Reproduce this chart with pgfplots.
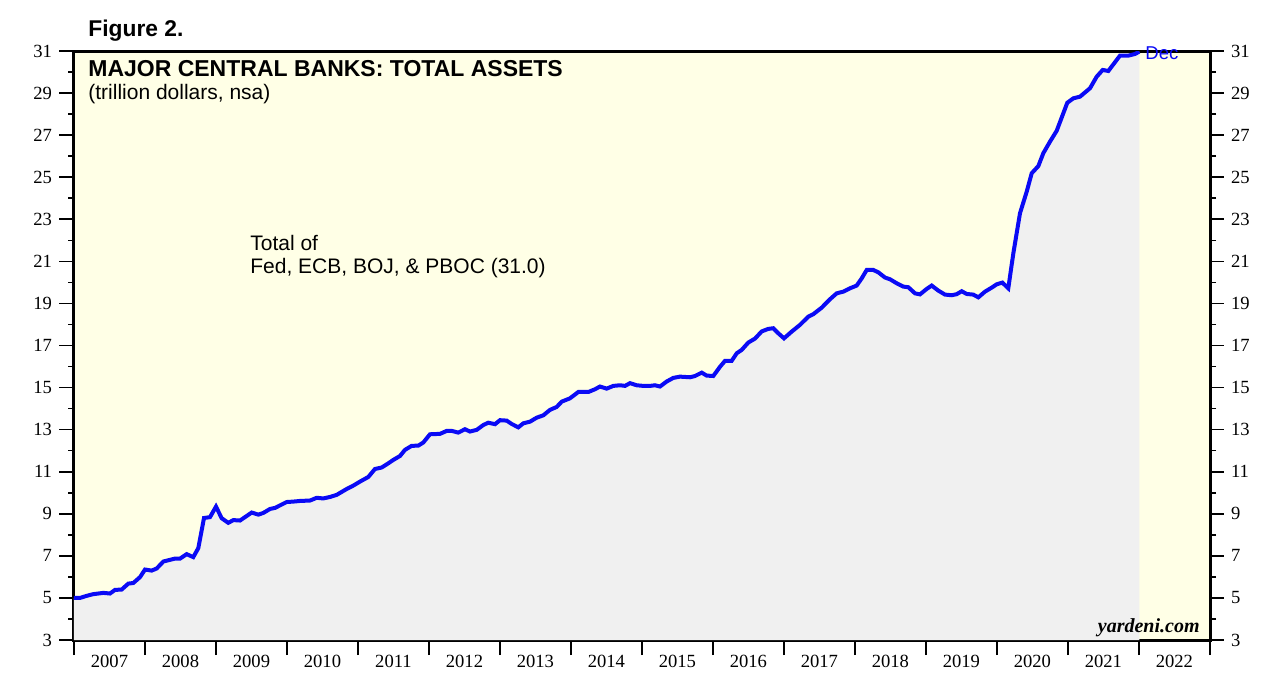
\documentclass[border=0pt]{standalone}
\usepackage{pgfplots}
\pgfplotsset{compat=1.18}
\usepackage{pgfplotstable}
\usepackage{fontspec}
\setmainfont{Liberation Serif}
\setsansfont{Liberation Sans}

\definecolor{bgyellow}{RGB}{255,255,230}
\definecolor{areagray}{RGB}{240,240,240}
\definecolor{lineblue}{RGB}{10,10,245}

% total assets of Fed, ECB, BOJ and PBOC, trillion dollars
\pgfplotstableread{
year     assets
2007.000 5.00
2007.085 5.00
2007.179 5.10
2007.272 5.18
2007.413 5.24
2007.507 5.21
2007.577 5.38
2007.672 5.40
2007.765 5.68
2007.835 5.71
2007.930 5.99
2008.000 6.35
2008.094 6.30
2008.165 6.40
2008.258 6.73
2008.352 6.81
2008.423 6.87
2008.493 6.87
2008.587 7.08
2008.680 6.94
2008.751 7.37
2008.831 8.80
2008.915 8.84
2009.000 9.34
2009.080 8.79
2009.173 8.57
2009.244 8.70
2009.338 8.68
2009.408 8.84
2009.503 9.06
2009.596 8.96
2009.666 9.04
2009.761 9.23
2009.831 9.28
2009.925 9.44
2009.996 9.56
2010.089 9.58
2010.183 9.61
2010.324 9.63
2010.418 9.76
2010.511 9.73
2010.606 9.80
2010.700 9.90
2010.841 10.18
2010.934 10.34
2011.028 10.53
2011.145 10.75
2011.239 11.13
2011.334 11.20
2011.427 11.40
2011.497 11.56
2011.592 11.75
2011.662 12.04
2011.756 12.23
2011.849 12.24
2011.920 12.39
2012.014 12.78
2012.155 12.80
2012.249 12.94
2012.320 12.94
2012.413 12.86
2012.507 13.02
2012.577 12.91
2012.672 12.99
2012.765 13.22
2012.835 13.33
2012.930 13.26
2013.000 13.45
2013.094 13.43
2013.165 13.27
2013.258 13.11
2013.328 13.30
2013.423 13.38
2013.517 13.57
2013.610 13.68
2013.704 13.94
2013.799 14.08
2013.869 14.33
2013.986 14.49
2014.103 14.79
2014.244 14.79
2014.338 14.92
2014.408 15.05
2014.503 14.95
2014.596 15.08
2014.690 15.11
2014.761 15.08
2014.831 15.21
2014.925 15.11
2015.018 15.08
2015.113 15.08
2015.183 15.11
2015.254 15.05
2015.348 15.29
2015.441 15.46
2015.535 15.52
2015.676 15.49
2015.746 15.55
2015.841 15.71
2015.911 15.57
2016.004 15.55
2016.099 15.99
2016.169 16.27
2016.263 16.27
2016.334 16.63
2016.404 16.79
2016.497 17.14
2016.592 17.33
2016.686 17.67
2016.779 17.79
2016.849 17.82
2016.920 17.58
2017.000 17.34
2017.108 17.66
2017.225 17.98
2017.342 18.37
2017.413 18.49
2017.531 18.80
2017.648 19.20
2017.742 19.48
2017.835 19.56
2017.930 19.72
2018.024 19.85
2018.094 20.19
2018.165 20.59
2018.258 20.59
2018.328 20.48
2018.423 20.23
2018.493 20.15
2018.587 19.96
2018.680 19.80
2018.751 19.77
2018.845 19.48
2018.915 19.43
2019.010 19.69
2019.080 19.85
2019.173 19.61
2019.268 19.42
2019.362 19.39
2019.432 19.44
2019.503 19.58
2019.573 19.45
2019.666 19.42
2019.737 19.29
2019.831 19.56
2019.925 19.75
2019.996 19.91
2020.075 19.99
2020.159 19.72
2020.230 21.38
2020.324 23.29
2020.418 24.31
2020.489 25.19
2020.582 25.53
2020.652 26.14
2020.746 26.69
2020.841 27.21
2020.990 28.54
2021.075 28.75
2021.169 28.83
2021.310 29.23
2021.404 29.78
2021.489 30.10
2021.568 30.05
2021.732 30.78
2021.849 30.78
2021.944 30.86
2022.004 30.97
}\assets

\begin{document}
\begin{tikzpicture}
\path[use as bounding box] (-37pt,-23.5pt) rectangle (603pt,320pt);
\begin{axis}[
    at={(0pt,0pt)}, anchor=south west,
    scale only axis, width=568pt, height=294.5pt,
    xmin=2007, xmax=2023, ymin=3, ymax=31,
    axis background/.style={fill=bgyellow},
    axis line style={line width=1.5pt},
    xtick={2007,...,2023}, x tick label as interval, xtick pos=bottom,
    ytick={3,5,...,31}, minor ytick={4,6,...,30}, ytick pos=left,
    tick align=outside, major tick length=7.5pt, minor tick length=3pt,
    tick style={black, line width=0.8pt},
    tick label style={font=\fontsize{9.3}{11}\selectfont},
    xticklabel style={yshift=3.5pt},
    /pgf/number format/1000 sep={},
    /pgf/number format/assume math mode=true,
    clip mode=individual,
]
\addplot[fill=areagray, draw=none] table {\assets} \closedcycle;
\addplot[lineblue, line width=2pt] table {\assets};

\node[anchor=base west, inner sep=0, font=\sffamily\bfseries\fontsize{11.4}{13}\selectfont]
    at (axis description cs:0.0123,1.0238) {Figure 2.};
\node[anchor=base west, inner sep=0, font=\sffamily\bfseries\fontsize{11.5}{13}\selectfont]
    at (axis description cs:0.0123,0.9559) {MAJOR CENTRAL BANKS: TOTAL ASSETS};
\node[anchor=base west, inner sep=0, font=\sffamily\fontsize{10.5}{12}\selectfont]
    at (axis description cs:0.0123,0.9185) {(trillion dollars, nsa)};
\node[anchor=base west, inner sep=0, font=\sffamily\fontsize{10.5}{12}\selectfont]
    at (axis description cs:0.1549,0.6621) {Total of};
\node[anchor=base west, inner sep=0, font=\sffamily\fontsize{10.5}{12}\selectfont]
    at (axis description cs:0.1549,0.6231) {Fed, ECB, BOJ, \& PBOC (31.0)};
\node[anchor=base west, inner sep=0, text=lineblue, font=\sffamily\fontsize{9.3}{11}\selectfont]
    at (axis description cs:0.9428,0.9864) {Dec};
\node[anchor=base east, inner sep=0, font=\bfseries\itshape\fontsize{10}{12}\selectfont]
    at (axis description cs:0.9912,0.0119) {yardeni.com};
\end{axis}

% right-hand y axis with its own labels
\begin{axis}[
    at={(0pt,0pt)}, anchor=south west,
    scale only axis, width=568pt, height=294.5pt,
    xmin=2007, xmax=2023, ymin=3, ymax=31,
    axis x line=none, axis y line*=right,
    axis line style={line width=1.5pt},
    ytick={3,5,...,31}, minor ytick={4,6,...,30},
    tick align=outside, major tick length=7pt, minor tick length=3pt,
    tick style={black, line width=0.8pt},
    tick label style={font=\fontsize{9.3}{11}\selectfont},
    /pgf/number format/assume math mode=true,
]
\end{axis}
\end{tikzpicture}
\end{document}
